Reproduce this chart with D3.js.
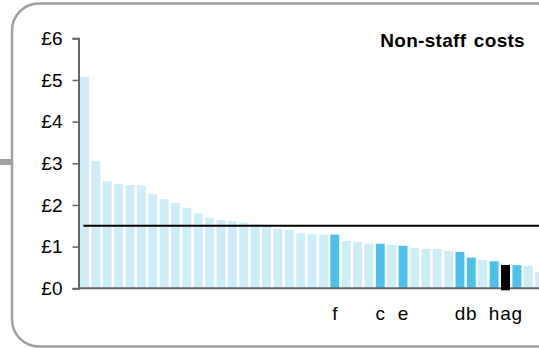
<!DOCTYPE html>
<html>
<head>
<meta charset="utf-8">
<script src="https://cdn.jsdelivr.net/npm/d3@7"></script>
<style>
  body { margin: 0; background: #fff; }
  svg { display: block; font-family: "Liberation Sans", Arial, sans-serif; }
</style>
</head>
<body>
<svg id="chart" width="539" height="348"></svg>
<script>
// bar values, sorted high to low (£ per unit)
const values = [5.08, 3.05, 2.57, 2.50, 2.48, 2.47, 2.26, 2.14, 2.05, 1.93,
    1.80, 1.69, 1.64, 1.61, 1.575, 1.54, 1.47, 1.43, 1.40, 1.32,
    1.30, 1.29, 1.29, 1.135, 1.12, 1.07, 1.07, 1.04, 1.02, 0.97,
    0.945, 0.94, 0.90, 0.87, 0.735, 0.68, 0.65, 0.56, 0.555, 0.535,
    0.39];
// labels under the highlighted bars, blank for the others
const labels = ["", "", "", "", "", "", "", "", "", "",
    "", "", "", "", "", "", "", "", "", "",
    "", "", "f", "", "", "", "c", "", "e", "",
    "", "", "", "d", "b", "", "h", "a", "g", "",
    ""];
const focus = "a";
const average = 1.5;
const yTicks = [0, 1, 2, 3, 4, 5, 6];

document.addEventListener("DOMContentLoaded", () => {
    const svg = d3.select("#chart");
    const ids = values.map((d, i) => i);

    const xAxis = d3.scaleBand()
        .domain(ids)
        .range([78.75, 545.3])
        .paddingInner(0.22)
        .paddingOuter(0.11);

    const yAxis = d3.scaleLinear().domain([0, 6]).range([288.3, 38.3]);

    // panel border + connector stub on the left
    svg.append("rect")
        .attr("x", 0).attr("y", 159).attr("width", 12).attr("height", 6)
        .attr("fill", "#a0a0a0");
    svg.append("rect")
        .attr("x", 12).attr("y", 3.5).attr("width", 552).attr("height", 343)
        .attr("rx", 27).attr("ry", 27)
        .attr("fill", "#fff")
        .attr("stroke", "#a0a0a0")
        .attr("stroke-width", 2.5);

    // bars
    svg.append("g").selectAll("rect")
        .data(values)
        .enter()
        .append("rect")
        .attr("x", (d, i) => xAxis(i))
        .attr("y", d => yAxis(d))
        .attr("width", xAxis.bandwidth())
        .attr("height", d => yAxis(0) - yAxis(d))
        .attr("fill", (d, i) => labels[i] === focus ? "#000" : (labels[i] ? "#4bc2ec" : "#cdeef9"));

    // average line
    svg.append("line")
        .attr("x1", xAxis(0) + xAxis.bandwidth() / 2 - 1)
        .attr("x2", 539)
        .attr("y1", yAxis(average))
        .attr("y2", yAxis(average))
        .attr("stroke", "#000")
        .attr("stroke-width", 2);

    // y axis
    const gy = svg.append("g")
        .attr("transform", "translate(78.5,0)")
        .call(d3.axisLeft(yAxis)
            .tickValues(yTicks)
            .tickSize(6)
            .tickPadding(10)
            .tickFormat(d => "£" + d));
    gy.select(".domain").attr("stroke", "#666").attr("stroke-width", 2);
    gy.selectAll(".tick line").attr("stroke", "#666").attr("stroke-width", 1.5);
    gy.selectAll("text")
        .attr("font-family", "Liberation Sans, Arial, sans-serif")
        .style("font-size", "19px")
        .attr("fill", "#000");

    // baseline
    svg.append("line")
        .attr("x1", 78).attr("x2", 539)
        .attr("y1", yAxis(0)).attr("y2", yAxis(0))
        .attr("stroke", "#666")
        .attr("stroke-width", 2);

    // focus bar sits slightly over the baseline
    svg.append("rect")
        .attr("x", xAxis(labels.indexOf(focus)))
        .attr("y", yAxis(values[labels.indexOf(focus)]))
        .attr("width", xAxis.bandwidth())
        .attr("height", yAxis(0) - yAxis(values[labels.indexOf(focus)]) + 2)
        .attr("fill", "#000");

    // category letters
    const gx = svg.append("g")
        .attr("transform", `translate(0, ${yAxis(0)})`)
        .call(d3.axisBottom(xAxis)
            .tickSize(0)
            .tickPadding(18)
            .tickFormat(i => labels[i]));
    gx.select(".domain").remove();
    gx.selectAll("text")
        .attr("font-family", "Liberation Sans, Arial, sans-serif")
        .style("font-size", "19px")
        .attr("fill", "#000");

    // title
    svg.append("text")
        .attr("x", 525)
        .attr("y", 47)
        .attr("text-anchor", "end")
        .style("font-size", "19px")
        .style("font-weight", "bold")
        .style("letter-spacing", "0.3px")
        .style("word-spacing", "2px")
        .style("fill", "black")
        .text("Non-staff costs");
});
</script>
</body>
</html>
